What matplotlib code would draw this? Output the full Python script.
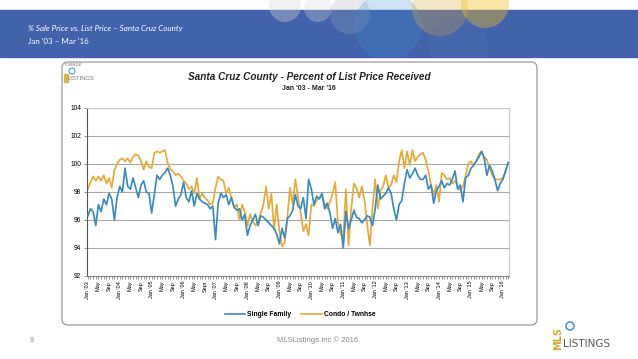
import matplotlib.pyplot as plt
from matplotlib.patches import Rectangle, FancyBboxPatch, Circle
from matplotlib.lines import Line2D

# monthly values, Jan '03 .. Mar '16
single_family = [
    96.3, 96.8, 96.6, 95.6, 97.1, 96.6, 97.5, 97.1, 97.9, 97.5, 96.0, 97.6,
    98.4, 98.0, 99.7, 98.4, 98.2, 99.0, 98.3, 97.6, 98.5, 98.8, 98.0, 97.9,
    96.5, 97.8, 99.2, 98.9, 99.2, 99.4, 99.7, 99.2, 98.4, 97.0, 97.5, 97.8,
    98.7, 97.6, 97.3, 98.1, 97.0, 97.9, 97.5, 97.3, 97.2, 97.1, 96.8, 97.0,
    94.6, 97.2, 97.9, 97.6, 97.8, 97.1, 97.6, 96.9, 96.7, 96.8, 96.0, 96.4,
    94.9, 95.6, 96.0, 96.4, 95.6, 96.3, 96.2, 96.0, 95.8, 95.6, 95.4, 95.0,
    94.3, 95.4, 94.7, 96.1, 96.3, 96.7, 97.8, 97.0, 96.8, 97.6, 96.1, 98.9,
    98.2, 97.1, 97.7, 97.5, 97.9, 96.8, 97.2, 96.5, 95.4, 96.1, 95.1, 95.7,
    94.0, 96.6, 95.4, 96.0, 96.7, 96.2, 96.1, 95.8, 96.0, 96.3, 96.2, 95.6,
    96.8, 98.5, 97.5, 97.7, 97.9, 98.3, 97.9, 96.8, 96.0, 97.1, 97.4, 98.6,
    99.6, 99.0, 99.3, 99.7, 99.2, 98.9, 98.9, 99.2, 98.2, 98.5, 97.2, 98.1,
    98.4, 98.8, 98.3, 98.6, 98.5, 98.9, 99.5, 98.2, 98.5, 97.3, 99.0, 99.2,
    99.7, 99.9, 100.2, 100.5, 100.9, 100.4, 99.2, 99.9, 99.5, 98.9, 98.1, 98.6,
    98.9, 99.5, 100.1,
]

condo_twnhse = [
    98.2, 98.7, 99.1, 98.8, 99.1, 98.8, 99.2, 98.6, 99.0, 98.3, 99.6, 100.0,
    100.3, 100.4, 100.2, 100.4, 100.1, 100.5, 100.7, 100.6, 100.2, 99.6, 100.2, 99.8,
    99.7, 100.8, 100.9, 100.8, 100.9, 101.0, 100.1, 99.6, 99.5, 99.2, 99.3, 99.1,
    98.8, 98.6, 98.2, 98.4, 97.9, 99.0, 97.5, 97.9, 97.6, 97.4, 97.1, 97.2,
    98.3, 99.1, 98.9, 98.8, 97.9, 98.3, 97.6, 96.9, 97.1, 96.0, 97.1, 96.6,
    95.6, 96.4, 95.9, 95.6, 95.9, 96.5, 97.1, 98.4, 96.8, 97.9, 95.3, 97.1,
    95.2, 94.1, 94.4, 96.2, 98.3, 97.1, 98.9, 97.6, 96.5, 95.2, 95.7, 94.9,
    97.1, 97.0, 97.4, 97.6, 97.7, 97.2, 96.8, 97.3, 97.9, 98.7, 95.8, 95.0,
    94.7, 98.2, 94.2, 96.8, 98.6, 98.3, 97.6, 98.4, 97.4, 95.7, 94.2, 96.9,
    98.9, 96.8, 98.1, 98.4, 99.2, 98.3, 98.5, 99.2, 98.7, 100.2, 101.0, 99.7,
    100.9, 99.9, 101.0, 100.2, 100.5, 100.7, 100.8, 100.3, 99.5, 98.5, 97.8, 98.5,
    97.3, 99.35, 99.2, 98.9, 99.0, 98.6, 98.8, 98.4, 98.1, 98.4, 99.2, 100.0,
    100.2, 99.9, 100.2, 100.7, 100.9, 100.5, 100.3, 99.7, 99.2, 98.9, 98.9, 98.9,
    99.0, 99.5, 100.1,
]

years = ["03", "04", "05", "06", "07", "08", "09", "10", "11", "12", "13", "14", "15", "16"]
y_ticks = [92, 94, 96, 98, 100, 102, 104]

tick_labels = []
for yr in years:
    tick_labels.append("Jan '" + yr)
    if yr != "16":
        tick_labels.append("May")
        tick_labels.append("Sept" if yr == "06" else "Sep")

blue = "#3a8cc0"
gold = "#e6aa35"

fig = plt.figure(figsize=(6.38, 3.59), dpi=100)

# slide background in pixel coords
bg = fig.add_axes([0, 0, 1, 1])
bg.set_xlim(0, 638)
bg.set_ylim(359, 0)
bg.axis("off")

band = Rectangle((0, 10), 638, 47, color="#4262ab", zorder=1)
bg.add_patch(band)
# faint gear decoration in the header
for cx, cy, r, c, a in [(285, 6, 16, "#d8d8d8", 0.35), (318, 8, 14, "#d8d8d8", 0.3),
                        (350, 14, 20, "#a0a8b4", 0.25), (388, 26, 34, "#3c8fd0", 0.25),
                        (440, 8, 28, "#e0b040", 0.3), (485, 4, 24, "#f0c020", 0.4),
                        (458, 46, 30, "#5a78b0", 0.2)]:
    circ = Circle((cx, cy), r, color=c, alpha=a, zorder=2, lw=0)
    bg.add_patch(circ)
    circ.set_clip_path(Rectangle((0, 0), 638, 57, transform=bg.transData))

bg.text(28, 29, "% Sale Price vs. List Price – Santa Cruz County", color="white",
        fontsize=5.8, style="italic", family="Lato", va="center", zorder=3)
bg.text(28, 42, "Jan '03 – Mar '16", color="white",
        fontsize=5.8, family="Lato", va="center", zorder=3)

box = FancyBboxPatch((62, 62), 475, 263, boxstyle="round,pad=0,rounding_size=6",
                     fc="white", ec="#9a9a9a", lw=0.9, zorder=1)
bg.add_patch(box)

bg.text(309, 77, "Santa Cruz County - Percent of List Price Received",
        fontsize=7.2, weight="bold", style="italic", family="Liberation Sans",
        ha="center", va="center", color="#222222")
bg.text(309, 89, "Jan '03 - Mar '16", fontsize=5.0, weight="bold",
        family="Liberation Sans", ha="center", va="center", color="#222222")

# small logo in chart box
bg.text(65, 65, "POWERED BY", fontsize=1.8, color="#666666", va="center")
bg.text(68, 78, "LISTINGS", fontsize=4.2, color="#777777", family="Liberation Sans",
        va="center")
bg.add_patch(Rectangle((64, 74), 4, 8, color="#e0b040"))
bg.add_patch(Circle((72, 71), 3, fill=False, ec="#4a9ad0", lw=0.8))

# footer
bg.text(30, 340, "9", fontsize=5, color="#888888", family="Liberation Sans", va="center")
bg.text(318, 340, "MLSListings Inc © 2016", fontsize=5.5, color="#888888",
        family="Liberation Sans", ha="center", va="center")
bg.text(563, 344, "LISTINGS", fontsize=7.5, color="#5a5a5a", family="Liberation Sans Narrow",
        ha="left", va="center")
bg.text(558, 338, "MLS", fontsize=7, color="#d4a82a", weight="bold", rotation=90,
        family="Liberation Sans Narrow", ha="center", va="center")
bg.add_patch(Circle((570, 326), 4, fill=False, ec="#4a9ad0", lw=1.2))

# chart
ax = fig.add_axes([87 / 638, 1 - 276 / 359, 422 / 638, 168 / 359])
months = list(range(len(single_family)))
ax.plot(months, single_family, color=blue, lw=1.25, label="Single Family", zorder=3)
ax.plot(months, condo_twnhse, color=gold, lw=1.25, label="Condo / Twnhse", zorder=2)

ax.set_xlim(-0.3, 158.3)
ax.set_ylim(92, 104)
ax.set_yticks(y_ticks)
ax.set_yticklabels([str(v) for v in y_ticks], fontsize=4.8, family="Liberation Sans")
ax.yaxis.grid(True, color="#a8a8a8", lw=0.8)
ax.set_axisbelow(True)

ax.set_xticks(range(0, 157, 4))
ax.set_xticklabels(tick_labels, rotation=90, fontsize=4.0, family="Liberation Sans")
ax.set_xticks(range(0, 159), minor=True)
ax.tick_params(axis="x", which="both", length=2, width=0.5, color="#666666", pad=1.5)
ax.tick_params(axis="y", length=2, width=0.5, color="#666666", pad=2)

for s in ["top", "right"]:
    ax.spines[s].set_color("#c8c8c8")
    ax.spines[s].set_linewidth(0.8)
ax.spines["bottom"].set_color("#888888")
ax.spines["left"].set_color("#555555")
ax.spines["bottom"].set_linewidth(0.8)
ax.spines["left"].set_linewidth(0.8)

handles = [Line2D([], [], color=blue, lw=1.2), Line2D([], [], color=gold, lw=1.2)]
leg = fig.legend(handles, ["Single Family", "Condo / Twnhse"], loc="center",
                 bbox_to_anchor=(300 / 638, 1 - 315 / 359), ncol=2, frameon=False,
                 handlelength=3.0, columnspacing=1.5, handletextpad=0.3,
                 prop={"size": 4.9, "weight": "bold", "family": "Liberation Sans"})

fig.savefig("out.png", dpi=100)
